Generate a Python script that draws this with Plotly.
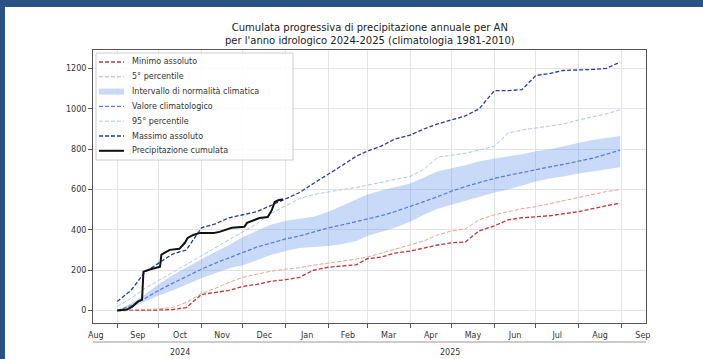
import plotly.graph_objects as go

# Dekadal sampling dates for the climatological series (hydrological year Sep 2024 - Aug 2025)
dekads = [
    "2024-09-01", "2024-09-11", "2024-09-21", "2024-10-01", "2024-10-11", "2024-10-21",
    "2024-11-01", "2024-11-11", "2024-11-21", "2024-12-01", "2024-12-11", "2024-12-21",
    "2025-01-01", "2025-01-11", "2025-01-21", "2025-02-01", "2025-02-11", "2025-02-21",
    "2025-03-01", "2025-03-11", "2025-03-21", "2025-04-01", "2025-04-11", "2025-04-21",
    "2025-05-01", "2025-05-11", "2025-05-21", "2025-06-01", "2025-06-11", "2025-06-21",
    "2025-07-01", "2025-07-11", "2025-07-21", "2025-08-01", "2025-08-11", "2025-08-21",
    "2025-08-31",
]

minimo_assoluto = [0, 0, 2, 3, 5, 15, 80, 90, 100, 120, 130, 145,
                   153, 165, 200, 215, 220, 227, 257, 265, 285, 295, 310, 325,
                   336, 340, 395, 420, 450, 460, 465, 470, 480, 490, 505, 520, 533]
percentile_5 = [0, 2, 5, 8, 15, 40, 85, 110, 140, 165, 180, 195,
                205, 212, 225, 235, 245, 255, 265, 285, 305, 325, 345, 375,
                395, 405, 450, 475, 490, 505, 515, 530, 545, 560, 575, 590, 600]
normalita_inf = [0, 15, 45, 75, 100, 130, 160, 185, 210, 225, 250, 275,
                 295, 310, 315, 320, 330, 345, 370, 390, 410, 440, 475, 505,
                 525, 545, 565, 585, 600, 620, 640, 655, 665, 680, 690, 700, 711]
normalita_sup = [0, 35, 80, 130, 175, 215, 255, 290, 325, 365, 395, 425,
                 445, 455, 465, 490, 520, 550, 575, 595, 610, 630, 660, 690,
                 705, 720, 740, 755, 765, 775, 790, 800, 815, 830, 845, 855, 865]
valore_climatologico = [0, 25, 60, 100, 135, 170, 205, 235, 260, 288, 315, 335,
                        355, 370, 390, 410, 425, 440, 455, 470, 490, 515, 540, 565,
                        592, 615, 635, 655, 670, 685, 700, 712, 725, 740, 755, 775, 795]
percentile_95 = [20, 60, 110, 150, 190, 230, 270, 310, 350, 390, 430, 480,
                 520, 555, 575, 590, 600, 610, 620, 635, 650, 665, 700, 760,
                 770, 780, 795, 815, 880, 895, 905, 915, 925, 945, 960, 975, 995]
massimo_assoluto = [45, 100, 190, 235, 280, 300, 410, 430, 460, 475, 490, 520,
                    555, 585, 630, 675, 720, 765, 790, 815, 850, 870, 900, 925,
                    945, 965, 1000, 1090, 1090, 1095, 1165, 1175, 1190, 1192, 1195, 1200, 1232]

# Observed cumulative precipitation (mm)
oss_date = [
    "2024-09-01", "2024-09-08", "2024-09-12", "2024-09-16", "2024-09-19", "2024-09-20",
    "2024-09-24", "2024-09-30", "2024-10-02", "2024-10-03", "2024-10-05", "2024-10-09",
    "2024-10-16", "2024-10-20", "2024-10-22", "2024-10-26", "2024-10-31", "2024-11-10",
    "2024-11-14", "2024-11-23", "2024-12-02", "2024-12-04", "2024-12-13", "2024-12-19",
    "2024-12-22", "2024-12-24", "2024-12-27", "2024-12-30",
]
oss_valori = [0, 5, 20, 44, 54, 193, 202, 212, 217, 277, 286, 301,
              306, 336, 360, 375, 385, 385, 390, 410, 415, 435, 459, 464,
              499, 538, 548, 550]

y_ticks = [0, 200, 400, 600, 800, 1000, 1200]
anni = ["2024", "2025"]

titolo = ("Cumulata progressiva di precipitazione annuale per AN<br>"
          "per l'anno idrologico 2024-2025 (climatologia 1981-2010)")

W, H = 703, 359
ML, MR, MT, MB = 93, 57, 50, 36
PW, PH = W - ML - MR, H - MT - MB


def px_x(px):
    return (px - ML) / PW


def px_y(py):
    return (H - MB - py) / PH


DASH = "4px,2px"
stili = {
    "Minimo assoluto": dict(color="#c8323a", width=1.3, dash=DASH),
    "5° percentile": dict(color="#f4a08a", width=1, dash=DASH),
    "Intervallo di normalità climatica": None,
    "Valore climatologico": dict(color="#5b7fd6", width=1.3, dash=DASH),
    "95° percentile": dict(color="#a9c9f2", width=1, dash=DASH),
    "Massimo assoluto": dict(color="#2838a8", width=1.3, dash=DASH),
    "Precipitazione cumulata": dict(color="#111111", width=2),
}
FILL = "rgba(100,149,237,0.35)"

fig = go.Figure()

fig.add_trace(go.Scatter(x=dekads, y=minimo_assoluto, mode="lines", name="Minimo assoluto",
                         line=stili["Minimo assoluto"]))
fig.add_trace(go.Scatter(x=dekads, y=percentile_5, mode="lines", name="5° percentile",
                         line=stili["5° percentile"]))
fig.add_trace(go.Scatter(x=dekads, y=normalita_inf, mode="lines", name="normalità inf",
                         line=dict(width=0), hoverinfo="skip"))
fig.add_trace(go.Scatter(x=dekads, y=normalita_sup, mode="lines",
                         name="Intervallo di normalità climatica",
                         fill="tonexty", fillcolor=FILL, line=dict(width=0)))
fig.add_trace(go.Scatter(x=dekads, y=valore_climatologico, mode="lines", name="Valore climatologico",
                         line=stili["Valore climatologico"]))
fig.add_trace(go.Scatter(x=dekads, y=percentile_95, mode="lines", name="95° percentile",
                         line=stili["95° percentile"]))
fig.add_trace(go.Scatter(x=dekads, y=massimo_assoluto, mode="lines", name="Massimo assoluto",
                         line=stili["Massimo assoluto"]))
fig.add_trace(go.Scatter(x=oss_date, y=oss_valori, mode="lines", name="Precipitazione cumulata",
                         line=stili["Precipitazione cumulata"]))

TEXT = "#333333"
font_base = dict(family="DejaVu Sans", size=8, color=TEXT)

fig.update_layout(
    width=W, height=H,
    margin=dict(l=ML, r=MR, t=MT, b=MB),
    paper_bgcolor="white", plot_bgcolor="white",
    font=font_base,
    showlegend=False,
)

fig.update_xaxes(
    type="date", range=["2024-08-14 12:00", "2025-09-18 18:00"],
    dtick="M1", tick0="2024-08-01", tickformat="%b", ticklabelmode="period",
    ticks="outside", ticklen=4, tickcolor="#555555",
    showgrid=True, gridcolor="#e4e4e4", gridwidth=1,
    showline=True, linecolor="#555555", linewidth=1, mirror=True,
    zeroline=False,
)
fig.update_yaxes(
    range=[-61.5, 1291.5], tickvals=y_ticks,
    ticks="outside", ticklen=4, tickcolor="#555555",
    showgrid=True, gridcolor="#e4e4e4", gridwidth=1,
    showline=True, linecolor="#555555", linewidth=1, mirror=True,
    zeroline=False,
)

# Two-line title centred over the axes
fig.add_annotation(text=titolo, xref="paper", yref="paper", x=0.5, y=px_y(20),
                   xanchor="center", yanchor="top", showarrow=False, align="center",
                   font=dict(family="DejaVu Sans", size=10, color="#222222"))

# Legend panel (upper left, inside the axes)
fig.add_shape(type="rect", xref="paper", yref="paper",
              x0=px_x(96), x1=px_x(293), y0=px_y(160), y1=px_y(53),
              fillcolor="rgba(255,255,255,0.85)", line=dict(color="#cccccc", width=1),
              layer="above")
for i, (nome, stile) in enumerate(stili.items()):
    yc = px_y(62 + i * 14.8)
    if stile is None:
        fig.add_shape(type="rect", xref="paper", yref="paper",
                      x0=px_x(99), x1=px_x(124), y0=yc - 3 / PH, y1=yc + 3 / PH,
                      fillcolor=FILL, line=dict(width=0), layer="above")
    else:
        fig.add_shape(type="line", xref="paper", yref="paper",
                      x0=px_x(99), x1=px_x(124), y0=yc, y1=yc,
                      line=stile, layer="above")
    fig.add_annotation(text=nome, xref="paper", yref="paper", x=px_x(130), y=yc,
                       xanchor="left", yanchor="middle", showarrow=False,
                       font=dict(family="DejaVu Sans", size=8, color=TEXT))

# Page frame strips (top and left)
frame = "#2b5283"
fig.add_shape(type="rect", xref="paper", yref="paper", x0=px_x(-5), x1=px_x(W + 5),
              y0=px_y(7), y1=px_y(-5), fillcolor=frame, line=dict(width=0), layer="above")
fig.add_shape(type="rect", xref="paper", yref="paper", x0=px_x(-5), x1=px_x(5),
              y0=px_y(H + 5), y1=px_y(-5), fillcolor=frame, line=dict(width=0), layer="above")

# Secondary year axis below the month labels
fig.add_shape(type="line", xref="paper", yref="paper", x0=0, x1=1,
              y0=px_y(342), y1=px_y(342), line=dict(color="#999999", width=1))
for anno, xp in zip(anni, [180, 450]):
    fig.add_annotation(text=anno, xref="paper", yref="paper", x=px_x(xp), y=px_y(352),
                       showarrow=False, xanchor="center", yanchor="middle",
                       font=dict(family="DejaVu Sans", size=8, color=TEXT))

fig.write_html("out.html")
